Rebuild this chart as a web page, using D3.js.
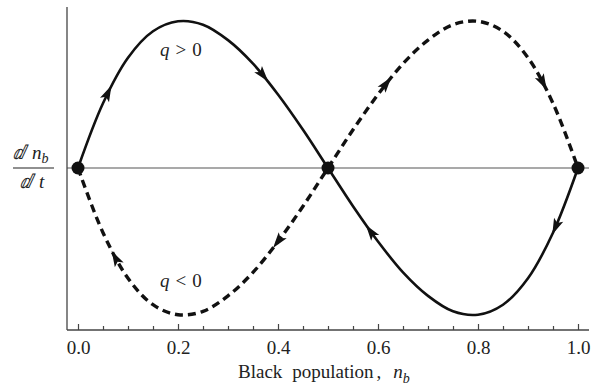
<!DOCTYPE html>
<html>
<head>
<meta charset="utf-8">
<script src="https://cdn.jsdelivr.net/npm/d3@7"></script>
<style>
  body { margin: 0; background: #fff; }
  svg { display: block; }
</style>
</head>
<body>
<div id="chart"></div>
<script>
// population share of black residents
var nb = [0, 0.05, 0.1, 0.15, 0.2, 0.25, 0.3, 0.35, 0.4, 0.45, 0.5,
          0.55, 0.6, 0.65, 0.7, 0.75, 0.8, 0.85, 0.9, 0.95, 1.0];
// dn_b/dt, q > 0 (solid)
var ratePos = [0, 0.44, 0.75, 0.93, 0.998, 0.975, 0.87, 0.71, 0.50, 0.26, 0,
               -0.26, -0.50, -0.71, -0.87, -0.975, -0.998, -0.93, -0.75, -0.44, 0];
// dn_b/dt, q < 0 (dashed)
var rateNeg = [0, -0.44, -0.75, -0.93, -0.998, -0.975, -0.87, -0.71, -0.50, -0.26, 0,
               0.26, 0.50, 0.71, 0.87, 0.975, 0.998, 0.93, 0.75, 0.44, 0];
// arrow positions along each curve, dir +1 = toward larger n_b
var arrowsPos = [{n: 0.06, dir: 1}, {n: 0.37, dir: 1}, {n: 0.585, dir: -1}, {n: 0.955, dir: -1}];
var arrowsNeg = [{n: 0.075, dir: -1}, {n: 0.40, dir: -1}, {n: 0.617, dir: 1}, {n: 0.93, dir: 1}];
// equilibria
var fixedPoints = [0, 0.5, 1];
var majorTicks = [0, 0.2, 0.4, 0.6, 0.8, 1.0];
var minorTicks = [0.05, 0.1, 0.15, 0.25, 0.3, 0.35, 0.45, 0.5, 0.55, 0.65, 0.7, 0.75, 0.85, 0.9, 0.95];

var width = 603, height = 386;
var serif = "Liberation Serif";

var svg = d3.select("#chart").append("svg")
    .attr("width", width)
    .attr("height", height);

var x = d3.scaleLinear().domain([0, 1]).range([78, 578]);
var y = d3.scaleLinear().domain([-1, 1]).range([315, 21]);

// frame extents (data units)
var xMin = -0.022, xMax = 1.022, yMin = -1.102, yMax = 1.095;

// zero line
svg.append("line")
    .attr("x1", x(xMin)).attr("x2", x(xMax))
    .attr("y1", y(0)).attr("y2", y(0))
    .attr("stroke", "#8c8c8c")
    .attr("stroke-width", 1.3);

var line = d3.line()
    .x(function (d) { return x(d[0]); })
    .y(function (d) { return y(d[1]); })
    .curve(d3.curveCatmullRom.alpha(0.5));

var solidPath = svg.append("path")
    .datum(d3.zip(nb, ratePos))
    .attr("d", line)
    .attr("fill", "none")
    .attr("stroke", "#111")
    .attr("stroke-width", 2.6);

var dashedPath = svg.append("path")
    .datum(d3.zip(nb, rateNeg))
    .attr("d", line)
    .attr("fill", "none")
    .attr("stroke", "#111")
    .attr("stroke-width", 3.4)
    .attr("stroke-dasharray", "8,5");

// arrowheads along the curves
function drawArrows(pathSel, arrows) {
    var node = pathSel.node();
    var total = node.getTotalLength();
    arrows.forEach(function (a) {
        var tx = x(a.n), best = 0, bestD = Infinity;
        for (var l = 0; l <= total; l += 0.5) {
            var p = node.getPointAtLength(l);
            var dd = Math.abs(p.x - tx);
            if (dd < bestD) { bestD = dd; best = l; }
        }
        var p0 = node.getPointAtLength(Math.max(0, best - 2));
        var p1 = node.getPointAtLength(Math.min(total, best + 2));
        var ang = Math.atan2(p1.y - p0.y, p1.x - p0.x) * 180 / Math.PI;
        if (a.dir < 0) ang += 180;
        var c = node.getPointAtLength(best);
        svg.append("path")
            .attr("d", "M8,0 L-8,-5 L-4.5,0 L-8,5 Z")
            .attr("transform", "translate(" + c.x + "," + c.y + ") rotate(" + ang + ")")
            .attr("fill", "#111");
    });
}
drawArrows(solidPath, arrowsPos);
drawArrows(dashedPath, arrowsNeg);

// fixed points
svg.selectAll(".fixed")
    .data(fixedPoints)
    .enter()
    .append("circle")
    .attr("class", "fixed")
    .attr("cx", function (d) { return x(d); })
    .attr("cy", y(0))
    .attr("r", 6.5)
    .attr("fill", "#111");

// axes frame
svg.append("line")
    .attr("x1", x(xMin)).attr("x2", x(xMin))
    .attr("y1", y(yMax)).attr("y2", y(yMin))
    .attr("stroke", "#444").attr("stroke-width", 1.3);
svg.append("line")
    .attr("x1", x(xMin)).attr("x2", x(xMax))
    .attr("y1", y(yMin)).attr("y2", y(yMin))
    .attr("stroke", "#444").attr("stroke-width", 1.3);

// ticks
var xAxis = svg.append("g")
    .attr("transform", "translate(0," + y(yMin) + ")")
    .call(d3.axisBottom(x).tickValues(majorTicks).tickSizeInner(-6).tickSizeOuter(0)
        .tickPadding(11).tickFormat(d3.format(".1f")));
xAxis.select(".domain").remove();
xAxis.attr("font-family", serif);
xAxis.selectAll("line").attr("stroke", "#444").attr("stroke-width", 1.2);
xAxis.selectAll("text")
    .attr("font-family", serif)
    .attr("font-size", 19)
    .attr("fill", "#222");

var xMinor = svg.append("g")
    .attr("transform", "translate(0," + y(yMin) + ")")
    .call(d3.axisBottom(x).tickValues(minorTicks).tickSizeInner(-4).tickSizeOuter(0).tickFormat(""));
xMinor.select(".domain").remove();
xMinor.selectAll("line").attr("stroke", "#444").attr("stroke-width", 1.2);

function label(px, py) {
    return svg.append("text")
        .attr("x", px).attr("y", py)
        .attr("font-family", serif)
        .attr("font-size", 19)
        .attr("fill", "#222");
}

// x label
var xl = label(238, 378);
xl.append("tspan").text("Black");
xl.append("tspan").attr("dx", 10).text("population");
xl.append("tspan").attr("dx", 3).text(",");
xl.append("tspan").attr("dx", 12).attr("font-style", "italic").text("n");
xl.append("tspan").attr("dy", 5).attr("font-size", 14).attr("font-style", "italic").text("b");

// y label as a fraction
var num = label(13, 159);
num.append("tspan").attr("font-style", "italic").text("\u2146");
num.append("tspan").attr("dx", 8).attr("font-style", "italic").text("n");
num.append("tspan").attr("dy", 4).attr("font-size", 14).attr("font-style", "italic").text("b");
svg.append("line")
    .attr("x1", 13).attr("x2", 54)
    .attr("y1", 168).attr("y2", 168)
    .attr("stroke", "#222").attr("stroke-width", 1.2);
var den = label(20, 188);
den.append("tspan").attr("font-style", "italic").text("\u2146");
den.append("tspan").attr("dx", 8).attr("font-style", "italic").text("t");

// curve labels
var qp = label(160, 56);
qp.append("tspan").attr("font-style", "italic").text("q");
qp.append("tspan").attr("dx", 6).text(">");
qp.append("tspan").attr("dx", 6).text("0");

var qn = label(160, 287);
qn.append("tspan").attr("font-style", "italic").text("q");
qn.append("tspan").attr("dx", 6).text("<");
qn.append("tspan").attr("dx", 6).text("0");
</script>
</body>
</html>
